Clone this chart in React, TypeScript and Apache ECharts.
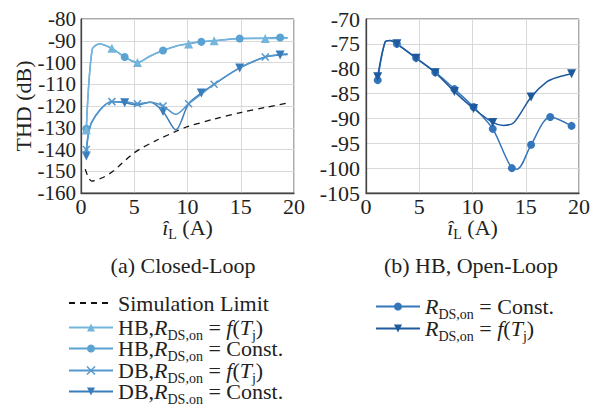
import React, { useEffect, useRef } from "react";
import * as echarts from "echarts";

const FONT = "Liberation Serif";
const TXT = "#222";
const FS = 22;

// ---------- (a) Closed-Loop ----------
const simX = [0.4, 1.0, 2.0, 3.0, 5.0, 7.0, 9.0, 10.0, 12.5, 15.0, 17.5, 19.5];
const simY = [-149, -154.5, -153, -150, -141.5, -136, -131.5, -129.5, -126, -123, -120.5, -118.5];

const hbFX = [0.5, 1.05, 1.7, 2.9, 4.1, 5.3, 6.5, 7.7, 8.9, 10.1, 11.3, 12.5, 14.9, 17.3, 19.4];
const hbFY = [-131, -94, -91.5, -93.5, -97.5, -100, -97, -94.5, -92.5, -91.5, -90.5, -90, -89, -89, -88.8];
const hbFMark = [1, 0, 0, 1, 0, 1, 0, 0, 0, 1, 0, 1, 0, 1, 0];

const hbCX = [0.5, 1.05, 1.7, 2.9, 4.1, 5.3, 6.5, 7.7, 8.9, 10.1, 11.3, 12.5, 14.9, 17.3, 18.7, 19.4];
const hbCY = [-130.5, -94, -91.5, -93.5, -97.5, -100, -97, -94.5, -92.5, -91.3, -90.5, -90, -89, -88.8, -88.5, -88.6];
const hbCMark = [1, 0, 0, 0, 1, 0, 0, 1, 0, 0, 1, 0, 1, 0, 1, 0];

const dbFX = [0.5, 1.0, 2.9, 4.1, 5.3, 6.5, 7.7, 8.9, 10.1, 11.3, 12.5, 14.9, 17.3, 19.4];
const dbFY = [-140, -127.5, -118, -118, -119, -118.3, -120, -123.8, -119, -114.5, -110, -102.5, -97.5, -96];
const dbFMark = [1, 0, 1, 0, 1, 0, 1, 0, 1, 0, 1, 0, 1, 0];

const dbCX = [0.5, 1.0, 2.9, 4.1, 5.3, 6.5, 7.7, 8.9, 10.1, 11.3, 12.5, 14.9, 17.3, 18.7, 19.4];
const dbCY = [-143, -127.5, -118, -118.5, -119.5, -118.3, -122.5, -131, -119, -114, -110, -102.5, -97.5, -96.5, -96.3];
const dbCMark = [1, 0, 0, 1, 0, 0, 1, 0, 0, 1, 0, 1, 0, 1, 0];

// ---------- (b) HB, Open-Loop ----------
const olCX = [1.1, 1.8, 2.3, 2.9, 4.7, 6.5, 8.3, 10.1, 11.9, 13.7, 14.2, 15.5, 17.3, 19.3];
const olCY = [-82.3, -74.6, -74.3, -75, -77.8, -80.7, -84.1, -87.7, -92.1, -100, -100.2, -95.3, -89.7, -91.5];
const olCMark = [1, 0, 0, 1, 1, 1, 1, 1, 1, 1, 0, 1, 1, 1];

const olFX = [1.1, 1.8, 2.3, 2.9, 4.7, 6.5, 8.3, 10.1, 11.9, 12.9, 13.9, 15.5, 17.0, 18.0, 19.3];
const olFY = [-81.6, -74.6, -74.3, -75, -77.9, -80.8, -84.6, -88, -90.8, -91.4, -90.8, -85.7, -82.6, -81.7, -81];
const olFMark = [1, 0, 0, 1, 1, 1, 1, 1, 1, 0, 0, 1, 0, 0, 1];

const xTicks = { min: 0, max: 20, interval: 5 };
const yTicksA = { min: -160, max: -80, interval: 10 };
const yTicksB = { min: -105, max: -70, interval: 5 };

const COL = {
  sim: "#111111",
  hbF: "#74b5dc",
  hbC: "#5aa2d2",
  dbF: "#5497cd",
  dbC: "#3a7dbb",
  olC: "#3576bb",
  olF: "#1f5a9e",
};

const CROSS = "path://M0,0L10,10M10,0L0,10";

function pts(xs: number[], ys: number[], marks?: number[]) {
  return xs.map((x, i) =>
    marks && !marks[i] ? { value: [x, ys[i]], symbol: "none" } : { value: [x, ys[i]] }
  );
}

const NAMES: Record<string, string> = {
  sim: "Simulation Limit",
  hbF: "HB,{i|R}{sub|DS,on} = {i|f}({i|T}{sub|j})",
  hbC: "HB,{i|R}{sub|DS,on} = Const.",
  dbF: "DB,{i|R}{sub|DS,on} = {i|f}({i|T}{sub|j})",
  dbC: "DB,{i|R}{sub|DS,on} = Const.",
  olC: "{i|R}{sub|DS,on} = Const.",
  olF: "{i|R}{sub|DS,on} = {i|f}({i|T}{sub|j})",
};

const rich = {
  i: { fontFamily: FONT, fontSize: FS, fontStyle: "italic", color: TXT, lineHeight: 22 },
  sub: { fontFamily: FONT, fontSize: 14, color: TXT, padding: [15, 0, 0, 0], lineHeight: 22 },
};

function legendRow(key: string, left: number, cy: number, extra: any = {}) {
  return {
    data: [key],
    orient: "vertical",
    left,
    top: cy - 11,
    padding: 0,
    itemWidth: 44,
    itemHeight: 10,
    itemGap: 0,
    selectedMode: false,
    formatter: (n: string) => NAMES[n],
    textStyle: { fontFamily: FONT, fontSize: FS, color: TXT, lineHeight: 22, rich },
    ...extra,
  };
}

export default function App() {
  const ref = useRef<HTMLDivElement>(null);
  useEffect(() => {
    document.body.style.margin = "0";
    const chart = echarts.init(ref.current!, null, { renderer: "svg" });
    const axisLabel = {
      fontFamily: FONT,
      fontSize: FS,
      color: TXT,
      showMinLabel: true,
      showMaxLabel: true,
      hideOverlap: false,
    };
    const axisLine = { show: true, onZero: false, lineStyle: { color: "#444", width: 1.3 } };
    const splitLine = { show: true, lineStyle: { color: "#d9d9d9", width: 1 } };
    const lineW = 1.5;
    const mk = (key: string, xs: number[], ys: number[], marks: number[] | undefined, symbol: string, idx: number, extra: any = {}) => ({
      name: key,
      type: "line",
      xAxisIndex: idx,
      yAxisIndex: idx,
      data: pts(xs, ys, marks),
      smooth: 0.3,
      symbol,
      symbolSize: 8,
      color: (COL as any)[key],
      lineStyle: { width: lineW, color: (COL as any)[key] },
      itemStyle: { color: (COL as any)[key] },
      ...extra,
    });
    chart.setOption({
      animation: false,
      grid: [
        { left: 81, top: 19, width: 213, height: 174, show: true, borderColor: "#555", borderWidth: 1 },
        { left: 366, top: 19, width: 213, height: 174, show: true, borderColor: "#555", borderWidth: 1 },
      ],
      xAxis: [0, 1].map((g) => ({
        type: "value",
        gridIndex: g,
        ...xTicks,
        axisLine,
        axisTick: { show: false },
        splitLine,
        axisLabel: { ...axisLabel, margin: 2 },
        name: "{i|î}{sub|L} (A)",
        nameLocation: "middle",
        nameGap: 23,
        nameMoveOverlap: false,
        nameTextStyle: { fontFamily: FONT, fontSize: FS, color: TXT, lineHeight: 22, rich },
      })),
      yAxis: [
        {
          type: "value",
          gridIndex: 0,
          ...yTicksA,
          axisLine,
          axisTick: { show: false },
          splitLine,
          axisLabel: { ...axisLabel, fontSize: 21, margin: 5 },
          name: "THD (dB)",
          nameLocation: "middle",
          nameGap: 47,
          nameMoveOverlap: false,
          nameTextStyle: { fontFamily: FONT, fontSize: FS, color: TXT },
        },
        {
          type: "value",
          gridIndex: 1,
          ...yTicksB,
          axisLine,
          axisTick: { show: false },
          splitLine,
          axisLabel: { ...axisLabel, margin: 6 },
        },
      ],
      legend: [
        legendRow("sim", 68, 303, { itemStyle: { opacity: 0 } }),
        legendRow("hbF", 68, 324),
        legendRow("hbC", 68, 345),
        legendRow("dbF", 68, 367, { itemStyle: { borderColor: COL.dbF, borderWidth: 1.5 } }),
        legendRow("dbC", 68, 388),
        legendRow("olC", 375, 303),
        legendRow("olF", 375, 325),
      ],
      series: [
        mk("sim", simX, simY, undefined, "none", 0, { smooth: 0.3, lineStyle: { width: 1.3, color: COL.sim, type: [6, 5] } }),
        mk("dbC", dbCX, dbCY, dbCMark, "triangle", 0, { symbolRotate: 180, symbolSize: 9 }),
        mk("dbF", dbFX, dbFY, dbFMark, CROSS, 0, {
          symbolSize: 7,
          itemStyle: { color: COL.dbF, borderColor: COL.dbF, borderWidth: 1.5 },
        }),
        mk("hbC", hbCX, hbCY, hbCMark, "circle", 0),
        mk("hbF", hbFX, hbFY, hbFMark, "triangle", 0, { symbolSize: 9 }),
        mk("olC", olCX, olCY, olCMark, "circle", 1),
        mk("olF", olFX, olFY, olFMark, "triangle", 1, { symbolRotate: 180, symbolSize: 9 }),
      ],
      graphic: [
        { type: "text", x: 183, y: 265, style: { text: "(a) Closed-Loop", fontFamily: FONT, fontSize: FS, fill: TXT, textAlign: "center", textVerticalAlign: "middle" } },
        { type: "text", x: 471, y: 265, style: { text: "(b) HB, Open-Loop", fontFamily: FONT, fontSize: FS, fill: TXT, textAlign: "center", textVerticalAlign: "middle" } },
      ],
    });
    return () => chart.dispose();
  }, []);
  return <div ref={ref} style={{ width: 596, height: 404 }} />;
}
